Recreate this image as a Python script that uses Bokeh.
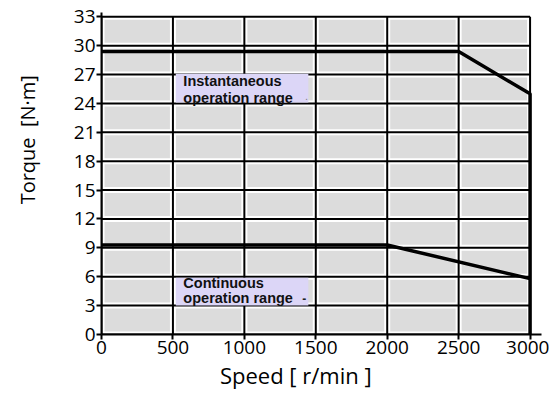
from bokeh.plotting import figure
from bokeh.models import Range1d, FixedTicker, Label, BoxAnnotation
from bokeh.embed import file_html
from bokeh.resources import INLINE

# Data
x_ticks = [0, 500, 1000, 1500, 2000, 2500, 3000]
y_ticks = [0, 3, 6, 9, 12, 15, 18, 21, 24, 27, 30, 33]
speed_inst = [0, 2500, 3000, 3000]
torque_inst = [29.4, 29.4, 25.0, 0]
speed_cont = [0, 2000, 3000]
torque_cont = [9.3, 9.3, 5.8]

p = figure(width=549, height=393, output_backend="svg", toolbar_location=None,
           x_range=Range1d(0, 3080), y_range=Range1d(0, 33.45),
           min_border_left=101, min_border_right=8, min_border_top=12, min_border_bottom=59)
p.outline_line_color = None
p.xgrid.visible = False
p.ygrid.visible = False
p.background_fill_color = "white"

xmin, xmax = x_ticks[0], x_ticks[-1]
ymin, ymax = y_ticks[0], y_ticks[-1]
p.quad(left=[xmin], right=[xmax], bottom=[ymin], top=[ymax], fill_color="#dcdcdc", line_color=None)

# grid: white band + black line
for w, c in ((6, "white"), (2, "black")):
    p.segment(x0=x_ticks, x1=x_ticks, y0=[ymin]*len(x_ticks), y1=[ymax]*len(x_ticks), line_color=c, line_width=w)
    p.segment(x0=[xmin]*len(y_ticks), x1=[xmax]*len(y_ticks), y0=y_ticks, y1=y_ticks, line_color=c, line_width=w)

p.line(speed_inst, torque_inst, line_color="black", line_width=3.5)
p.line(speed_cont, torque_cont, line_color="black", line_width=3.5)

# annotation boxes
lav = "#dcd6f7"
p.add_layout(BoxAnnotation(left=520, right=1448, bottom=24.1, top=27.1, fill_color=lav, fill_alpha=1, line_color=None))
p.add_layout(BoxAnnotation(left=520, right=1448, bottom=3.0, top=5.9, fill_color=lav, fill_alpha=1, line_color=None))
for txt, yy in (("Instantaneous", 26.36), ("operation range", 24.6), ("Continuous", 5.4), ("operation range", 3.74)):
    p.add_layout(Label(x=573, y=yy, text=txt, text_font="Liberation Sans", text_font_style="bold",
                       text_font_size="14.5px", text_color="#111111", text_baseline="middle"))
p.add_layout(Label(x=1405, y=3.74, text="-", text_font="Liberation Sans", text_font_style="bold",
                   text_font_size="12px", text_color="#222222", text_baseline="middle"))
p.add_layout(Label(x=1425, y=24.8, text=".", text_font="Liberation Sans",
                   text_font_size="11px", text_color="#888888", text_baseline="middle"))

p.xaxis.ticker = FixedTicker(ticks=x_ticks)
p.yaxis.ticker = FixedTicker(ticks=y_ticks)
for ax in (p.xaxis[0], p.yaxis[0]):
    ax.axis_line_color = "black"
    ax.axis_line_width = 2
    ax.major_tick_line_color = "black"
    ax.major_tick_line_width = 2
    ax.major_tick_out = 5
    ax.major_tick_in = 0
    ax.minor_tick_line_color = None
    ax.major_label_text_font = "Open Sans"
    ax.major_label_text_font_size = "19px"
    ax.major_label_text_color = "black"
    ax.axis_label_text_font = "Open Sans"
    ax.axis_label_text_font_style = "normal"
    ax.axis_label_text_color = "black"
    ax.major_label_standoff = 1

p.xaxis.axis_label = "Speed [ r/min ]" + "\u00a0" * 9
p.yaxis.axis_label = "\u00a0" * 13 + "Torque\u00a0\u00a0[N·m]"
p.xaxis.axis_label_text_font_size = "22px"
p.yaxis.axis_label_text_font_size = "20px"
p.xaxis.axis_label_standoff = 3
p.yaxis.axis_label_standoff = 30

open("out.html", "w").write(file_html(p, INLINE))
